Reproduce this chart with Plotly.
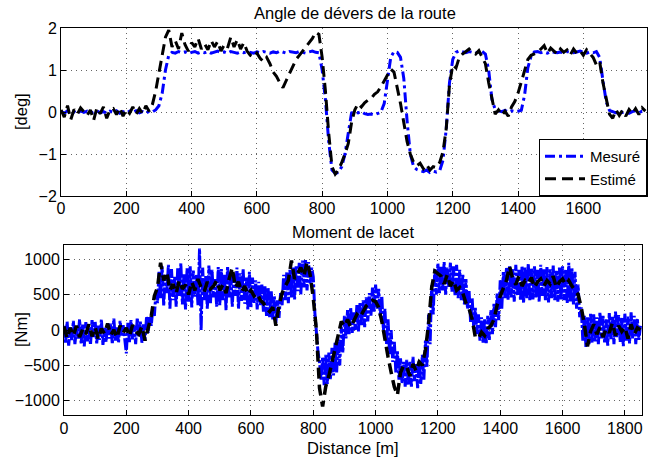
import plotly.graph_objects as go

# ---------------- Data ----------------
# Top subplot: road bank angle [deg], sampled every 10 m (0..1790)
dist_top = list(range(0, 1800, 10))
angle_mesure = [
    0.02, -0.03, 0.03, -0.02, 0.01, -0.04, 0.03, -0.01, 0.02, -0.03,
    0.00, 0.03, -0.02, 0.01, -0.03, 0.02, -0.01, 0.03, -0.03, 0.01,
    -0.02, 0.02, -0.01, 0.03, -0.02, 0.01, -0.03, 0.02, 0.00, 0.05,
    0.15, 0.45, 1.00, 1.35, 1.42, 1.40, 1.44, 1.41, 1.43, 1.39,
    1.42, 1.44, 1.40, 1.43, 1.41, 1.44, 1.40, 1.42, 1.45, 1.41,
    1.43, 1.40, 1.44, 1.42, 1.40, 1.43, 1.41, 1.44, 1.42, 1.40,
    1.43, 1.41, 1.44, 1.42, 1.40, 1.43, 1.41, 1.45, 1.42, 1.40,
    1.44, 1.42, 1.41, 1.44, 1.42, 1.40, 1.43, 1.45, 1.42, 1.41,
    1.00, 0.30, -0.70, -1.38, -1.46, -1.44, -1.30, -1.00, -0.50, -0.02,
    0.00, -0.02, 0.01, -0.04, -0.06, -0.05, -0.07, -0.04, 0.00, 0.20,
    0.75, 1.30, 1.44, 1.42, 1.30, 0.80, -0.20, -1.00, -1.30, -1.37,
    -1.40, -1.42, -1.38, -1.44, -1.41, -1.43, -1.40, -1.15, -0.40, 0.70,
    1.25, 1.42, 1.46, 1.43, 1.41, 1.44, 1.42, 1.40, 1.43, 1.44,
    1.38, 1.00, 0.30, 0.06, 0.03, 0.01, 0.04, 0.00, 0.03, 0.01,
    0.02, 0.04, 0.40, 1.05, 1.33, 1.43, 1.44, 1.41, 1.43, 1.40,
    1.44, 1.42, 1.41, 1.43, 1.40, 1.44, 1.42, 1.41, 1.43, 1.45,
    1.42, 1.40, 1.43, 1.41, 1.44, 1.30, 0.75, 0.25, 0.04, 0.01,
    -0.02, 0.03, -0.01, 0.02, -0.03, 0.01, 0.03, -0.02, 0.02, 0.00,
]
angle_estime = [
    0.05, -0.12, 0.15, -0.18, 0.06, -0.05, 0.10, 0.02, -0.08, 0.05,
    -0.20, 0.10, -0.04, 0.12, -0.15, 0.05, 0.08, -0.06, 0.10, -0.10,
    0.06, -0.03, 0.12, -0.05, 0.08, -0.04, 0.15, 0.02, 0.18, 0.50,
    0.95, 1.30, 1.78, 1.95, 1.55, 1.70, 1.50, 1.88, 1.60, 1.45,
    1.65, 1.55, 1.75, 1.50, 1.62, 1.48, 1.70, 1.55, 1.68, 1.45,
    1.60, 1.52, 1.78, 1.55, 1.72, 1.50, 1.65, 1.45, 1.35, 1.30,
    1.40, 1.28, 1.20, 1.30, 1.15, 0.95, 0.85, 0.70, 0.58, 0.75,
    0.92, 1.10, 1.25, 1.35, 1.45, 1.55, 1.65, 1.75, 1.90, 1.85,
    1.30, 0.50, -0.50, -1.30, -1.48, -1.38, -1.20, -1.00, -0.75, -0.25,
    0.05, 0.20, 0.12, 0.22, 0.28, 0.32, 0.42, 0.48, 0.60, 0.75,
    0.90, 1.02, 0.95, 0.60, 0.20, -0.25, -0.70, -1.00, -1.20, -1.28,
    -1.22, -1.35, -1.25, -1.38, -1.30, -1.32, -1.20, -0.95, -0.40, 0.65,
    1.12, 1.05, 1.30, 1.38, 1.45, 1.50, 1.42, 1.38, 1.46, 1.30,
    1.15, 0.70, 0.30, -0.05, 0.05, -0.08, 0.02, -0.10, 0.12, 0.25,
    0.45, 0.70, 1.00, 1.25, 1.35, 1.38, 1.42, 1.50, 1.58, 1.40,
    1.52, 1.45, 1.38, 1.50, 1.42, 1.48, 1.36, 1.50, 1.40, 1.46,
    1.35, 1.48, 1.40, 1.30, 1.12, 1.20, 0.70, 0.30, -0.05, -0.15,
    0.05, -0.08, 0.04, -0.10, 0.06, -0.04, 0.08, -0.06, 0.10, 0.02,
]

# Bottom subplot: yaw moment [Nm]
dist_bot_mes = list(range(0, 1855, 5))   # every 5 m (0..1850)
moment_mesure = [
    60, -180, 120, -220, 40, -150, 130, -200, 20, -120, 150, -190, 80, -230, 110, -160, 30, -210, 140, -100,
    120, -190, 60, -140, 150, -210, 30, -170, 110, -120, 90, -200, 160, -150, 40, -180, 130, -90, 70, -160,
    -330, 100, -170, 140, -130, 60, -200, 170, -100, 120, -180, 80, -150, 190, -40, 180, 60, 300, 200, 520,
    380, 820, 450, 900, 340, 780, 520, 920, 300, 860, 420, 750, 330, 880, 480, 940, 360, 800, 290, 870,
    400, 900, 320, 840, 470, 780, 350, 1150, 0, 880, 420, 760, 300, 910, 380, 850, 460, 720, 330, 890,
    350, 860, 420, 780, 280, 900, 460, 820, 330, 750, 480, 880, 300, 800, 410, 860, 370, 740, 290, 820,
    320, 740, 380, 700, 290, 680, 350, 640, 260, 620, 200, 600, 180, 560, 150, 480, 100, 420, 170, 520,
    350, 780, 420, 820, 380, 850, 460, 880, 430, 900, 550, 950, 500, 980, 600, 1000, 560, 960, 650, 880,
    750, 250, -100, -300, -450, -700, -380, -780, -350, -760, -320, -700, -250, -640, -180, -600, -120, -500, 40, -320,
    200, -120, 280, -60, 320, -40, 250, 0, 350, -20, 380, 60, 420, 40, 460, 120, 520, 200, 600, 260,
    640, 300, 580, 200, 480, 0, 300, -200, 150, -340, 0, -450, -150, -600, -300, -700, -400, -760, -450, -800,
    -420, -780, -450, -800, -380, -720, -480, -820, -420, -760, -350, -700, -150, -520, 220, -200, 640, 220, 870, 500,
    940, 520, 900, 560, 960, 500, 880, 600, 950, 540, 900, 480, 920, 450, 850, 420, 780, 360, 720, 300,
    560, 100, 450, 20, 320, -60, 220, -150, 180, -180, 150, -200, 200, -140, 280, -60, 380, 40, 520, 140,
    700, 300, 830, 450, 880, 420, 900, 460, 860, 400, 920, 480, 850, 420, 900, 380, 880, 450, 940, 410,
    880, 430, 900, 460, 850, 400, 920, 480, 870, 420, 890, 390, 860, 450, 910, 420, 840, 400, 880, 430,
    900, 420, 860, 380, 950, 400, 880, 360, 820, 300, 640, 180, 320, -150, 200, -240, 180, -200, 230, -180,
    220, -160, 180, -200, 250, -120, 200, -180, 150, -220, 240, -140, 190, -200, 260, -100, 210, -170, 170, -230,
    230, -150, 190, -190, 250, -120, 200, -200, 160, -140, 60,
]
dist_bot_est = list(range(0, 1860, 10))  # every 10 m (0..1850)
moment_estime = [
    50, -120, 30, -80, 60, -100, 10, -60, 80, -90,
    40, -130, 20, -50, 90, -70, 0, -110, 60, -40,
    30, -90, 70, -20, -60, 50, -150, 40, 200, 480,
    600, 950, 700, 820, 560, 650, 520, 700, 580, 640,
    500, 680, 560, 720, 600, 540, 680, 580, 620, 700,
    560, 640, 520, 720, 880, 600, 680, 540, 620, 500,
    560, 480, 520, 420, 380, 300, 260, 320, 60, 350,
    520, 620, 700, 980, 720, 800, 880, 760, 960, 780,
    450, 0, -820, -1080, -800, -650, -450, -300, -100, 120,
    50, 150, 40, 130, 220, 180, 260, 340, 380, 420,
    400, 320, 120, -150, -380, -600, -800, -920, -600, -500,
    -520, -650, -480, -580, -450, -500, -280, 80, 600, 830,
    800, 760, 650, 780, 620, 700, 560, 600, 520, 380,
    300, 150, -100, -120, -30, -80, 20, 60, 150, 350,
    480, 600, 700, 900, 720, 640, 760, 620, 700, 660,
    740, 600, 680, 720, 620, 700, 650, 760, 600, 680,
    720, 640, 700, 620, 560, 500, 320, 80, -230, -20,
    80, -60, 40, -100, 20, -40, 100, -80, 60, -20,
    40, -120, 80, -60, 30, 0,
]

# Axis ticks
x_ticks_top = [0, 200, 400, 600, 800, 1000, 1200, 1400, 1600]
x_ticks_bot = [0, 200, 400, 600, 800, 1000, 1200, 1400, 1600, 1800]
y_ticks_top = [-2, -1, 0, 1, 2]
y_ticks_bot = [-1000, -500, 0, 500, 1000]

# ---------------- Figure ----------------
W, H = 665, 462
FONT = "Liberation Sans, Arial, Helvetica, sans-serif"
BLUE_DASH = "10px,4px,3px,4px"
BLUE_DASH_DENSE = "12px,2px,3px,2px"
BLACK_DASH = "11px,6px"

fig = go.Figure()

fig.add_trace(go.Scatter(
    x=dist_top, y=angle_mesure, mode="lines", name="Mesuré",
    line=dict(color="#0000ff", width=3, dash=BLUE_DASH),
    xaxis="x", yaxis="y"))
fig.add_trace(go.Scatter(
    x=dist_top, y=angle_estime, mode="lines", name="Estimé",
    line=dict(color="#000000", width=3, dash=BLACK_DASH),
    xaxis="x", yaxis="y"))
fig.add_trace(go.Scatter(
    x=dist_bot_mes, y=moment_mesure, mode="lines", showlegend=False,
    line=dict(color="#0000ff", width=3, dash=BLUE_DASH_DENSE),
    xaxis="x2", yaxis="y2"))
fig.add_trace(go.Scatter(
    x=dist_bot_est, y=moment_estime, mode="lines", showlegend=False,
    line=dict(color="#000000", width=3.5, dash=BLACK_DASH),
    xaxis="x2", yaxis="y2"))

def px_x(p):
    return p / W

def px_y(p):
    return 1 - p / H

axis_common = dict(
    showline=True, linecolor="black", linewidth=1, mirror=True,
    ticks="inside", ticklen=5, tickcolor="black", tickwidth=1,
    showgrid=True, gridcolor="#666666", gridwidth=1, griddash="1px,4px",
    zeroline=False, automargin=False,
    tickfont=dict(family=FONT, size=16, color="black"),
)

fig.update_layout(
    width=W, height=H,
    margin=dict(l=0, r=0, t=0, b=0, autoexpand=False),
    paper_bgcolor="white", plot_bgcolor="white",
    font=dict(family=FONT, size=16, color="black"),
    xaxis=dict(domain=[px_x(61), px_x(647)], range=[0, 1795],
               tickvals=x_ticks_top, anchor="y", ticklabelstandoff=-2,
               **axis_common),
    yaxis=dict(domain=[px_y(196), px_y(28)], range=[-2, 2],
               tickvals=y_ticks_top, anchor="x", **axis_common),
    xaxis2=dict(domain=[px_x(64), px_x(642)], range=[0, 1855],
                tickvals=x_ticks_bot, anchor="y2", ticklabelstandoff=-1,
                **axis_common),
    yaxis2=dict(domain=[px_y(415), px_y(245)], range=[-1200, 1200],
                tickvals=y_ticks_bot, tickformat="d", anchor="x2", **axis_common),
    legend=dict(x=px_x(647), xanchor="right", y=px_y(196), yanchor="bottom",
                bgcolor="white", bordercolor="black", borderwidth=1,
                font=dict(family=FONT, size=15, color="black"),
                tracegroupgap=0, itemwidth=40),
    showlegend=True,
    annotations=[
        dict(text="Angle de dévers de la route", x=px_x(355), y=px_y(13),
             xref="paper", yref="paper", showarrow=False,
             xanchor="center", yanchor="middle",
             font=dict(family=FONT, size=16.5)),
        dict(text="Moment de lacet", x=px_x(353), y=px_y(232),
             xref="paper", yref="paper", showarrow=False,
             xanchor="center", yanchor="middle",
             font=dict(family=FONT, size=16.5)),
        dict(text="Distance [m]", x=px_x(353), y=px_y(448),
             xref="paper", yref="paper", showarrow=False,
             xanchor="center", yanchor="middle",
             font=dict(family=FONT, size=16.5)),
        dict(text="[deg]", x=px_x(21), y=px_y(112), textangle=-90,
             xref="paper", yref="paper", showarrow=False,
             xanchor="center", yanchor="middle",
             font=dict(family=FONT, size=16.5)),
        dict(text="[Nm]", x=px_x(21), y=px_y(330), textangle=-90,
             xref="paper", yref="paper", showarrow=False,
             xanchor="center", yanchor="middle",
             font=dict(family=FONT, size=16.5)),
    ],
)

fig.write_html("out.html", config={"displayModeBar": False})
